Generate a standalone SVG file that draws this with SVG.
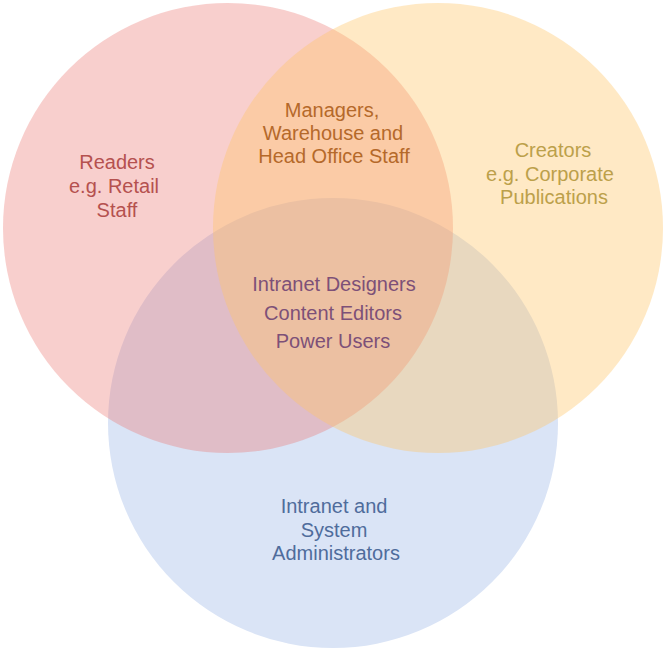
<svg xmlns="http://www.w3.org/2000/svg" width="666" height="651" viewBox="0 0 666 651">
<style>
text{font-family:"Liberation Sans",Arial,Helvetica,sans-serif;font-size:20px;text-anchor:middle}
.r{fill:#b5514f}.o{fill:#b5692a}.y{fill:#bca04a}.p{fill:#7d5078}.b{fill:#4f6c9c}
</style>
<rect width="666" height="651" fill="#ffffff"/>
<g id="circle-blue"><circle cx="333" cy="423" r="225" fill="#dae4f6"/></g>
<g id="circle-red"><circle cx="228" cy="228" r="225" fill="#eb7670" fill-opacity="0.35"/></g>
<g id="circle-yellow"><circle cx="438" cy="228" r="225" fill="#ffc566" fill-opacity="0.38"/></g>
<g id="connectors"></g>
<g id="label-readers">
<text class="r" x="117" y="169">Readers</text>
<text class="r" x="114" y="193">e.g. Retail</text>
<text class="r" x="117" y="217">Staff</text>
</g>
<g id="label-managers">
<text class="o" x="332" y="117">Managers,</text>
<text class="o" x="333" y="140">Warehouse and</text>
<text class="o" x="334" y="163">Head Office Staff</text>
</g>
<g id="label-creators">
<text class="y" x="553" y="157">Creators</text>
<text class="y" x="550" y="181">e.g. Corporate</text>
<text class="y" x="554" y="204">Publications</text>
</g>
<g id="label-center">
<text class="p" x="334" y="291">Intranet Designers</text>
<text class="p" x="333" y="320">Content Editors</text>
<text class="p" x="333" y="348">Power Users</text>
</g>
<g id="label-admins">
<text class="b" x="334" y="513">Intranet and</text>
<text class="b" x="334" y="537">System</text>
<text class="b" x="336" y="560">Administrators</text>
</g>
</svg>
